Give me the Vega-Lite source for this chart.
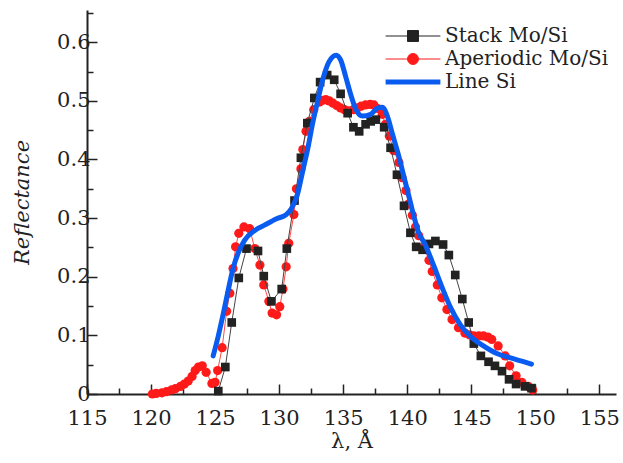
{
  "$schema": "https://vega.github.io/schema/vega-lite/v6.json",
  "width": 529,
  "height": 384,
  "autosize": {"type": "none"},
  "padding": {"left": 87, "top": 10, "right": 7, "bottom": 69},
  "background": "white",
  "config": {
    "font": "DejaVu Serif",
    "view": {"stroke": null},
    "axis": {"grid": false, "domainColor": "#222", "domainWidth": 2, "tickColor": "#222", "tickWidth": 1.5, "labelFont": "DejaVu Serif", "titleFont": "DejaVu Serif", "labelFontSize": 21, "titleFontSize": 21, "labelColor": "#222", "titleColor": "#222", "titleFontWeight": "normal"},
    "legend": {"labelFont": "DejaVu Serif"}
  },
  "datasets": {
    "stack": [
      {"x":125.25,"y":0.005},{"x":125.8,"y":0.046},{"x":126.3,"y":0.122},{"x":126.85,"y":0.198},{"x":127.45,"y":0.248},
      {"x":128.35,"y":0.244},{"x":128.8,"y":0.201},{"x":129.4,"y":0.158},{"x":130.2,"y":0.179},{"x":130.6,"y":0.248},
      {"x":131.2,"y":0.33},{"x":131.7,"y":0.403},{"x":132.2,"y":0.462},{"x":132.75,"y":0.505},{"x":133.2,"y":0.532},
      {"x":133.75,"y":0.544},{"x":134.3,"y":0.536},{"x":134.8,"y":0.512},{"x":135.35,"y":0.479},{"x":135.8,"y":0.455},
      {"x":136.25,"y":0.448},{"x":136.75,"y":0.46},{"x":137.15,"y":0.465},{"x":137.55,"y":0.468},{"x":138.2,"y":0.455},
      {"x":138.7,"y":0.42},{"x":139.2,"y":0.374},{"x":139.75,"y":0.321},{"x":140.25,"y":0.275},{"x":140.7,"y":0.251},
      {"x":141.2,"y":0.246},{"x":141.7,"y":0.256},{"x":142.2,"y":0.261},{"x":142.8,"y":0.255},{"x":143.25,"y":0.237},
      {"x":143.75,"y":0.203},{"x":144.3,"y":0.162},{"x":144.8,"y":0.122},{"x":145.2,"y":0.086},{"x":145.75,"y":0.065},
      {"x":146.35,"y":0.055},{"x":146.85,"y":0.048},{"x":147.4,"y":0.039},{"x":147.95,"y":0.025},{"x":148.5,"y":0.017},
      {"x":149.2,"y":0.013},{"x":149.7,"y":0.01}
    ],
    "aper": [
      {"x":120.1,"y":0.0},{"x":120.4,"y":0.001},{"x":120.85,"y":0.002},{"x":121.2,"y":0.004},{"x":121.6,"y":0.007},
      {"x":121.9,"y":0.009},{"x":122.3,"y":0.013},{"x":122.6,"y":0.017},{"x":122.9,"y":0.022},{"x":123.2,"y":0.03},
      {"x":123.45,"y":0.04},{"x":123.7,"y":0.046},{"x":124.0,"y":0.048},{"x":124.3,"y":0.037},{"x":124.75,"y":0.018},
      {"x":125.0,"y":0.02},{"x":125.2,"y":0.04},{"x":125.55,"y":0.079},{"x":125.9,"y":0.141},{"x":126.15,"y":0.172},
      {"x":126.4,"y":0.214},{"x":126.6,"y":0.251},{"x":126.85,"y":0.274},{"x":127.25,"y":0.285},{"x":127.7,"y":0.282},
      {"x":128.1,"y":0.248},{"x":128.5,"y":0.22},{"x":128.8,"y":0.186},{"x":129.2,"y":0.158},{"x":129.45,"y":0.138},
      {"x":129.8,"y":0.135},{"x":130.05,"y":0.149},{"x":130.3,"y":0.179},{"x":130.55,"y":0.217},{"x":130.75,"y":0.257},
      {"x":131.15,"y":0.306},{"x":131.35,"y":0.35},{"x":131.7,"y":0.384},{"x":131.85,"y":0.417},{"x":132.1,"y":0.448},
      {"x":132.35,"y":0.465},{"x":132.7,"y":0.485},{"x":133.15,"y":0.498},{"x":133.4,"y":0.501},{"x":133.65,"y":0.502},
      {"x":133.9,"y":0.5},{"x":134.2,"y":0.496},{"x":134.5,"y":0.492},{"x":134.8,"y":0.488},{"x":135.1,"y":0.485},
      {"x":135.45,"y":0.483},{"x":135.8,"y":0.485},{"x":136.1,"y":0.488},{"x":136.4,"y":0.491},{"x":136.75,"y":0.493},
      {"x":137.1,"y":0.494},{"x":137.4,"y":0.493},{"x":137.7,"y":0.487},{"x":138.05,"y":0.477},{"x":138.3,"y":0.46},
      {"x":138.6,"y":0.44},{"x":138.95,"y":0.415},{"x":139.35,"y":0.395},{"x":139.6,"y":0.369},{"x":139.9,"y":0.347},
      {"x":140.1,"y":0.324},{"x":140.4,"y":0.305},{"x":140.65,"y":0.285},{"x":140.9,"y":0.27},{"x":141.3,"y":0.251},
      {"x":141.7,"y":0.228},{"x":141.95,"y":0.209},{"x":142.35,"y":0.186},{"x":142.7,"y":0.164},{"x":143.1,"y":0.144},
      {"x":143.5,"y":0.127},{"x":144.0,"y":0.113},{"x":144.5,"y":0.104},{"x":144.85,"y":0.101},{"x":145.2,"y":0.099},
      {"x":145.6,"y":0.099},{"x":145.95,"y":0.099},{"x":146.3,"y":0.097},{"x":146.6,"y":0.093},{"x":147.1,"y":0.082},
      {"x":147.65,"y":0.065},{"x":148.0,"y":0.048},{"x":148.5,"y":0.031},{"x":148.95,"y":0.02},{"x":149.45,"y":0.013},
      {"x":149.8,"y":0.007}
    ],
    "line": [
      {"x":124.85,"y":0.065},{"x":125.25,"y":0.099},{"x":125.65,"y":0.138},{"x":126.05,"y":0.18},{"x":126.4,"y":0.214},
      {"x":126.85,"y":0.243},{"x":127.3,"y":0.262},{"x":128.1,"y":0.279},{"x":128.85,"y":0.288},{"x":129.8,"y":0.299},
      {"x":130.55,"y":0.306},{"x":130.95,"y":0.316},{"x":131.4,"y":0.338},{"x":131.85,"y":0.381},{"x":132.25,"y":0.42},
      {"x":132.6,"y":0.46},{"x":133.0,"y":0.499},{"x":133.4,"y":0.536},{"x":133.9,"y":0.567},{"x":134.45,"y":0.578},
      {"x":134.8,"y":0.57},{"x":135.2,"y":0.541},{"x":135.6,"y":0.51},{"x":136.0,"y":0.485},{"x":136.5,"y":0.474},
      {"x":137.15,"y":0.477},{"x":137.7,"y":0.488},{"x":138.05,"y":0.489},{"x":138.45,"y":0.474},{"x":138.85,"y":0.443},
      {"x":139.3,"y":0.409},{"x":139.75,"y":0.37},{"x":140.1,"y":0.34},{"x":140.5,"y":0.305},{"x":140.9,"y":0.275},
      {"x":141.4,"y":0.255},{"x":142.05,"y":0.22},{"x":142.7,"y":0.183},{"x":143.35,"y":0.149},{"x":144.15,"y":0.118},
      {"x":144.9,"y":0.099},{"x":145.95,"y":0.082},{"x":147.0,"y":0.069},{"x":148.0,"y":0.062},{"x":148.95,"y":0.056},
      {"x":149.7,"y":0.051}
    ]
  },
  "encoding": {
    "x": {"field": "x", "type": "quantitative", "title": "λ, Å",
      "scale": {"domain": [115, 156.3], "nice": false, "zero": false},
      "axis": {"values": [115,117.5,120,122.5,125,127.5,130,132.5,135,137.5,140,142.5,145,147.5,150,152.5,155],
        "labelExpr": "datum.value % 5 === 0 ? datum.label : ''",
        "tickSize": {"condition": {"test": "datum.value % 5 === 0", "value": -10}, "value": -6},
        "labelPadding": 23, "titlePadding": 2, "labelFlush": false}},
    "y": {"field": "y", "type": "quantitative", "title": "Reflectance",
      "scale": {"domain": [0, 0.655], "nice": false},
      "axis": {"values": [0,0.05,0.1,0.15,0.2,0.25,0.3,0.35,0.4,0.45,0.5,0.55,0.6,0.65],
        "format": ".2~f",
        "labelExpr": "round(datum.value*100) % 10 === 0 ? datum.label : ''",
        "tickSize": {"condition": {"test": "round(datum.value*100) % 10 === 0", "value": -10}, "value": -6},
        "labelPadding": 7, "titlePadding": 24, "titleFontStyle": "italic", "labelFlush": false}},
    "color": {"field": "s", "type": "nominal",
      "scale": {"domain": ["Stack Mo/Si", "Aperiodic Mo/Si", "Line Si"], "range": ["#222222", "#ff1a1a", "#0a5cf0"]},
      "legend": {"title": null, "orient": "none", "legendX": 316, "legendY": 16,
        "labelFont": "DejaVu Serif", "labelFontSize": 20, "labelColor": "#222", "labelOffset": 22, "labelLimit": 400,
        "symbolSize": 3000, "rowPadding": 3,
        "encode": {"symbols": {"update": {
          "shape": {"signal": "datum.value == 'Stack Mo/Si' ? 'M-1,0L1,0M-0.2,-0.2L0.2,-0.2L0.2,0.2L-0.2,0.2Z' : (datum.value == 'Aperiodic Mo/Si' ? 'M-1,0L1,0M-0.2,0A0.2,0.2 0 1,0 0.2,0A0.2,0.2 0 1,0 -0.2,0Z' : 'M-1,0L1,0')"},
          "strokeWidth": {"signal": "datum.value == 'Line Si' ? 5 : 1"},
          "fill": {"signal": "datum.value == 'Stack Mo/Si' ? '#222222' : (datum.value == 'Aperiodic Mo/Si' ? '#ff1a1a' : 'transparent')"},
          "stroke": {"signal": "datum.value == 'Stack Mo/Si' ? '#222222' : (datum.value == 'Aperiodic Mo/Si' ? '#ff6060' : '#0a5cf0')"},
          "opacity": {"value": 1}, "fillOpacity": {"value": 1}, "strokeOpacity": {"value": 1}
        }}}}}
  },
  "layer": [
    {"data": {"name": "aper"}, "transform": [{"calculate": "'Aperiodic Mo/Si'", "as": "s"}],
     "mark": {"type": "line", "strokeWidth": 1, "opacity": 0.8}},
    {"data": {"name": "aper"}, "transform": [{"calculate": "'Aperiodic Mo/Si'", "as": "s"}],
     "mark": {"type": "point", "shape": "circle", "filled": true, "size": 85, "opacity": 1}},
    {"data": {"name": "stack"}, "transform": [{"calculate": "'Stack Mo/Si'", "as": "s"}],
     "mark": {"type": "line", "strokeWidth": 1, "color": "#444"}, "encoding": {"color": {"value": "#444"}}},
    {"data": {"name": "stack"}, "transform": [{"calculate": "'Stack Mo/Si'", "as": "s"}],
     "mark": {"type": "point", "shape": "square", "filled": true, "size": 75, "opacity": 1}},
    {"data": {"name": "line"}, "transform": [{"calculate": "'Line Si'", "as": "s"}],
     "mark": {"type": "line", "strokeWidth": 5, "interpolate": "monotone", "strokeCap": "round"}}
  ]
}
